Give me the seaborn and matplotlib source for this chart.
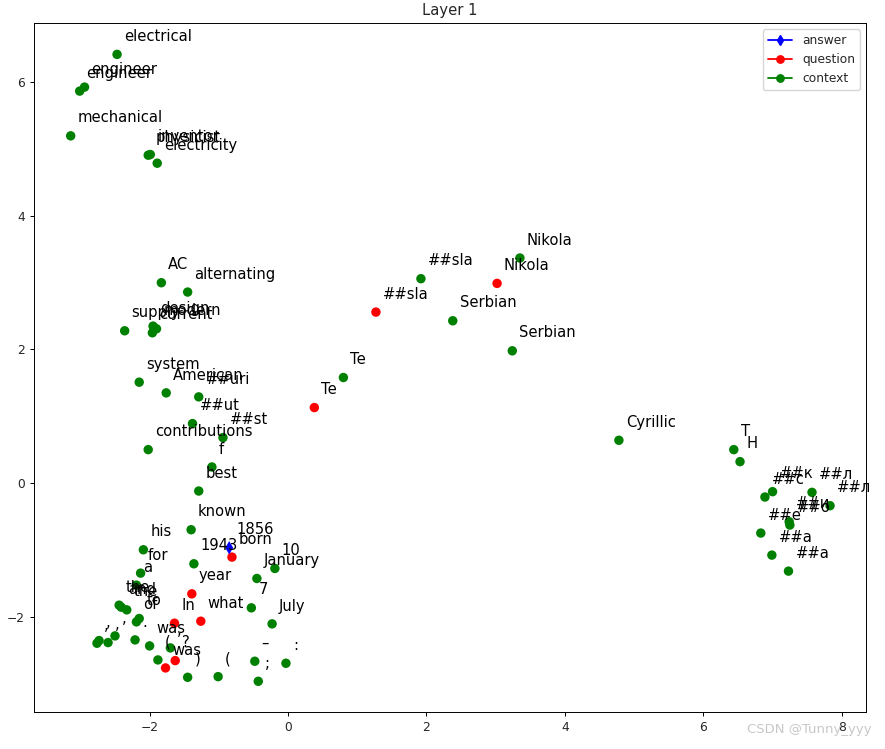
import numpy as np
import pandas as pd
import matplotlib
matplotlib.use("Agg")
import matplotlib.pyplot as plt
from matplotlib.lines import Line2D
import seaborn as sns

# ---- data ----
answer_words = ["1856"]
answer_x = [-0.85]
answer_y = [-0.97]

question_words = ["Nikola", "##sla", "Te", "born", "year", "In", "what", "?", "was"]
question_x = [3.02, 1.27, 0.38, -0.81, -1.39, -1.64, -1.26, -1.63, -1.77]
question_y = [2.99, 2.56, 1.13, -1.11, -1.66, -2.10, -2.07, -2.66, -2.77]

context_words = [
    "electrical", "engineer", "engineer", "mechanical", "physicist", "inventor", "electricity",
    "AC", "alternating", "supply", "design", "modern", "current", "system", "American",
    "##uri", "##ut", "##st", "contributions", "f", "best", "known", "his", "1943", "10",
    "January", "for", "a", "7", "July", "the", "and", "the", "to", "of", ",", ",", ",", ",",
    ".", "was", "(", ",", ")", "(", "–", ";", ":",
    "Nikola", "##sla", "Serbian", "Serbian", "Te", "Cyrillic",
    "Т", "Н", "##с", "##к", "##л", "##л", "##и", "##о", "##е", "##а", "##а",
]
context_x = [
    -2.47, -2.94, -3.01, -3.14, -2.02, -1.99, -1.89,
    -1.83, -1.45, -2.36, -1.95, -1.90, -1.96, -2.15, -1.76,
    -1.29, -1.38, -0.94, -2.02, -1.10, -1.29, -1.40, -2.09, -1.36, -0.19,
    -0.45, -2.13, -2.19, -0.53, -0.23, -2.44, -2.41, -2.33, -2.15, -2.19, -2.76, -2.73, -2.60, -2.50,
    -2.21, -2.00, -1.88, -1.70, -1.45, -1.01, -0.48, -0.43, -0.03,
    3.35, 1.92, 2.38, 3.24, 0.80, 4.78,
    6.44, 6.53, 6.89, 7.00, 7.57, 7.83, 7.24, 7.25, 6.83, 6.99, 7.23,
]
context_y = [
    6.42, 5.93, 5.87, 5.20, 4.91, 4.92, 4.79,
    3.00, 2.86, 2.28, 2.35, 2.31, 2.25, 1.51, 1.35,
    1.29, 0.89, 0.68, 0.50, 0.24, -0.12, -0.70, -1.00, -1.21, -1.28,
    -1.43, -1.35, -1.53, -1.87, -2.11, -1.83, -1.86, -1.90, -2.03, -2.08, -2.40, -2.36, -2.39, -2.29,
    -2.35, -2.44, -2.65, -2.47, -2.91, -2.90, -2.67, -2.97, -2.70,
    3.37, 3.06, 2.43, 1.98, 1.58, 0.64,
    0.50, 0.32, -0.21, -0.13, -0.14, -0.34, -0.58, -0.63, -0.75, -1.08, -1.32,
]

roles = ["answer", "question", "context"]
role_colors = {"answer": "blue", "question": "red", "context": "green"}
role_markers = {"answer": "d", "question": "o", "context": "o"}

df = pd.concat([
    pd.DataFrame({"word": context_words, "x": context_x, "y": context_y, "role": "context"}),
    pd.DataFrame({"word": question_words, "x": question_x, "y": question_y, "role": "question"}),
    pd.DataFrame({"word": answer_words, "x": answer_x, "y": answer_y, "role": "answer"}),
], ignore_index=True)

# ---- plot ----
sns.set_style("white")
plt.rcParams["font.family"] = ["DejaVu Sans"]
plt.rcParams["axes.edgecolor"] = "black"

fig = plt.figure(figsize=(8.85, 7.49), dpi=100)
ax = fig.add_axes([34 / 885, 1 - 712 / 749, (866 - 34) / 885, (712 - 23) / 749])

sns.scatterplot(data=df, x="x", y="y", hue="role", style="role",
                palette=role_colors, markers=role_markers, s=46,
                linewidth=0, legend=False, ax=ax, zorder=2)

for w, xv, yv in zip(df["word"], df["x"], df["y"]):
    ax.text(xv + 0.1, yv + 0.2, w, fontsize=10.6, color="black", zorder=3)

ax.set_xlim(-3.67, 8.35)
ax.set_ylim(-3.43, 6.89)
ax.set_xticks([-2, 0, 2, 4, 6, 8])
ax.set_yticks([-2, 0, 2, 4, 6])
ax.set_xlabel("")
ax.set_ylabel("")
ax.tick_params(axis="both", which="both", labelsize=8.85, direction="out",
               length=3.1, width=0.7, color="black", left=True, bottom=True)
for sp in ax.spines.values():
    sp.set_visible(True)
    sp.set_color("black")
    sp.set_linewidth(0.7)
ax.set_title("Layer 1", fontsize=10.6)

handles = [Line2D([0], [0], color=role_colors[r], marker=role_markers[r], markersize=5.3,
                  linewidth=1.3) for r in roles]
ax.legend(handles, roles, loc="upper right", fontsize=8.85, frameon=True,
          framealpha=0.8, edgecolor="#cccccc", fancybox=True)

fig.text(0.985, 0.018, "CSDN @Tunny_yyy", ha="right", va="bottom",
         fontsize=9.5, color="#c8c8c8")

fig.savefig("out.png", dpi=100)
